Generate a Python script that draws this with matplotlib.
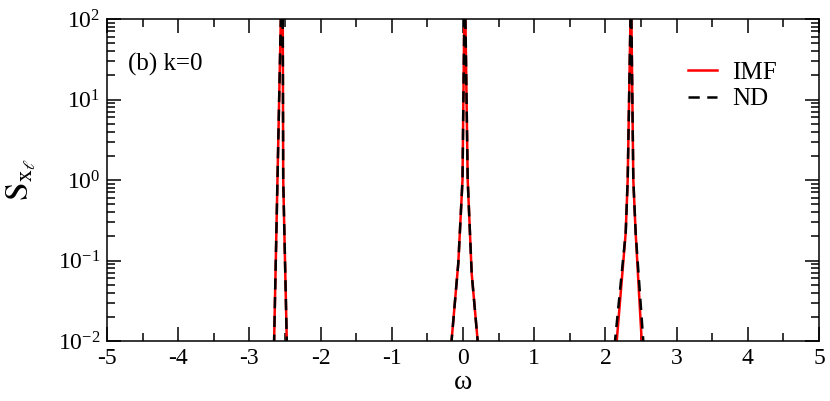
import matplotlib
matplotlib.use("Agg")
import matplotlib.pyplot as plt
from matplotlib.ticker import LogLocator, MultipleLocator

plt.rcParams['font.family'] = ['Liberation Serif', 'DejaVu Serif']
plt.rcParams['mathtext.fontset'] = 'stix'
plt.rcParams['axes.unicode_minus'] = False

# spectrum (points outside the window sit below 1e-2)
omega_imf = [-5.0, -2.70, -2.66, -2.535, -2.525, -2.475, -2.44,
             -0.20, -0.161, -0.066, -0.007, 0.025, 0.066, 0.122, 0.206, 0.24,
             2.12, 2.159, 2.285, 2.313, 2.36, 2.392, 2.425, 2.510, 2.55, 5.0]
s_imf = [1e-6, 1e-3, 5e-3, 1e3, 1.0, 1e-2, 1e-3,
         1e-3, 1e-2, 0.093, 1.0, 360, 1.0, 0.069, 1e-2, 1e-3,
         1e-3, 1e-2, 0.22, 1.0, 250, 1.0, 0.22, 1e-2, 1e-3, 1e-6]

omega_nd = [-5.0, -2.70, -2.66, -2.535, -2.525, -2.475, -2.44,
            -0.20, -0.161, -0.066, -0.007, 0.025, 0.066, 0.122, 0.206, 0.24,
            2.10, 2.135, 2.285, 2.313, 2.36, 2.392, 2.425, 2.532, 2.57, 5.0]
s_nd = [1e-6, 1e-3, 5e-3, 1e3, 1.0, 1e-2, 1e-3,
        1e-3, 1e-2, 0.093, 1.0, 360, 1.0, 0.069, 1e-2, 1e-3,
        1e-3, 1e-2, 0.22, 1.0, 250, 1.0, 0.22, 1e-2, 1e-3, 1e-6]

fig = plt.figure(figsize=(8.3, 4.01), dpi=100)
ax = fig.add_axes([107/830, 60/401, 712/830, 322/401])

ax.plot(omega_imf, s_imf, color='red', lw=1.8, label='IMF')
ax.plot(omega_nd, s_nd, color='black', lw=1.8, dashes=(4.5, 3), label='ND')

ax.set_yscale('log')
ax.set_xlim(-5, 5)
ax.set_ylim(1e-2, 1e2)

ax.xaxis.set_major_locator(MultipleLocator(1))
ax.xaxis.set_minor_locator(MultipleLocator(0.5))
ax.yaxis.set_major_locator(LogLocator(base=10))
ax.yaxis.set_minor_locator(LogLocator(base=10, subs=range(2, 10)))

ax.tick_params(which='both', direction='in', top=True, right=True, width=1.1)
ax.tick_params(which='major', length=10, labelsize=17, pad=5)
ax.tick_params(which='minor', length=5.5)
for sp in ax.spines.values():
    sp.set_linewidth(1.1)

ax.set_xlabel('ω', fontsize=20, labelpad=1)
ax.set_ylabel(r'$\mathrm{S}_{\mathrm{x}_{\ell}}$', fontsize=24, labelpad=14)

ax.text(0.03, 0.858, '(b) k=0', transform=ax.transAxes, fontsize=18, va='center')

ax.legend(loc='upper left', bbox_to_anchor=(0.816, 0.868), frameon=False,
          fontsize=18, handlelength=1.16, handletextpad=0.6, borderpad=0,
          borderaxespad=0, labelspacing=0.15)

fig.savefig('out.png', dpi=100)
